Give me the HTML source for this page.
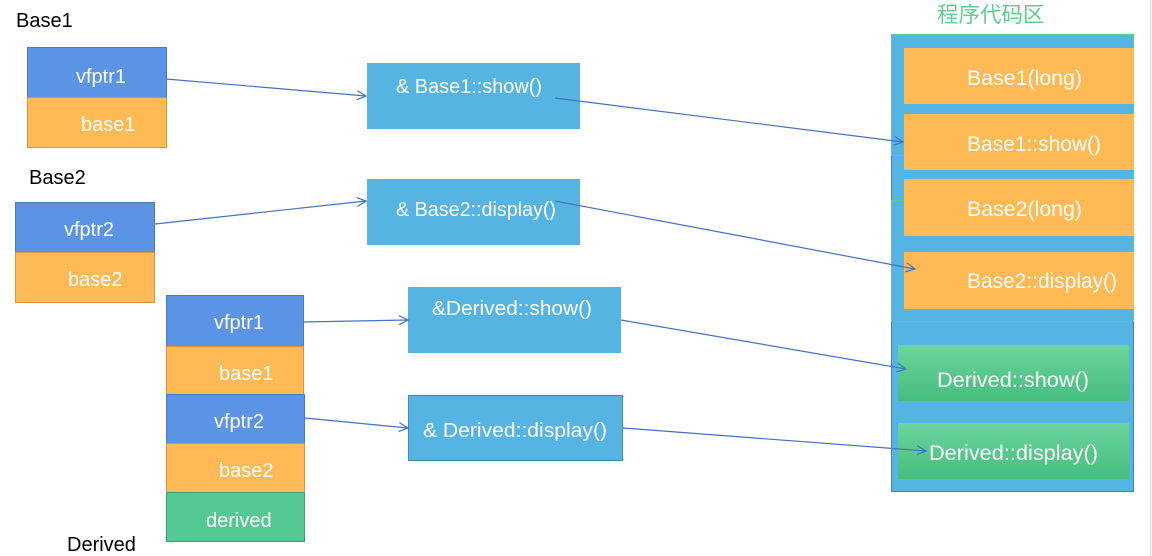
<!DOCTYPE html>
<html><head><meta charset="utf-8"><style>
html,body{margin:0;padding:0;background:#fff;width:1152px;height:556px;overflow:hidden}
svg{display:block}
text{font-family:"Liberation Sans","Noto Sans CJK SC",sans-serif}
</style></head><body>
<svg width="1152" height="556" viewBox="0 0 1152 556" xmlns="http://www.w3.org/2000/svg">
<defs>
<marker id="ar" markerWidth="12" markerHeight="12" refX="10" refY="5" orient="auto" markerUnits="userSpaceOnUse">
<path d="M1,0.5 L10,5 L1,9.5" fill="none" stroke="#4472C4" stroke-width="1.2"/>
</marker>
<linearGradient id="gg" x1="0" y1="0" x2="0" y2="1">
<stop offset="0" stop-color="#6DD49E"/><stop offset="1" stop-color="#44BE7D"/>
</linearGradient>
</defs>
<line x1="1150.5" y1="0" x2="1150.5" y2="556" stroke="#DDDDDD" stroke-width="1.5"/>

<!-- labels -->
<text x="16" y="27" font-size="20" fill="#000">Base1</text>
<text x="29" y="184" font-size="20" fill="#000">Base2</text>
<text x="67" y="551" font-size="20" fill="#000">Derived</text>

<!-- Base1 stack -->
<rect x="27.5" y="47.5" width="139" height="50" fill="#5B94E4" stroke="#4A7AC0"/>
<rect x="27.5" y="97.5" width="139" height="50" fill="#FFB955" stroke="#D9973A"/>
<text x="76" y="83" font-size="20" fill="#fff">vfptr1</text>
<text x="81" y="131" font-size="20" fill="#fff">base1</text>

<!-- Base2 stack -->
<rect x="15.5" y="202.5" width="139" height="50" fill="#5B94E4" stroke="#4A7AC0"/>
<rect x="15.5" y="252.5" width="139" height="50" fill="#FFB955" stroke="#D9973A"/>
<text x="64" y="236" font-size="20" fill="#fff">vfptr2</text>
<text x="68" y="286" font-size="20" fill="#fff">base2</text>

<!-- Derived stack -->
<rect x="166.5" y="295.5" width="137" height="51" fill="#5B94E4" stroke="#4A7AC0"/>
<rect x="166.5" y="346.5" width="137" height="51" fill="#FFB955" stroke="#D9973A"/>
<rect x="166.5" y="394.5" width="138" height="49" fill="#5B94E4" stroke="#4A7AC0"/>
<rect x="166.5" y="443.5" width="138" height="49" fill="#FFB955" stroke="#D9973A"/>
<rect x="166.5" y="492.5" width="138" height="49" fill="#55C993" stroke="#3E9E70"/>
<text x="214" y="329" font-size="20" fill="#fff">vfptr1</text>
<text x="219" y="380" font-size="20" fill="#fff">base1</text>
<text x="214" y="428" font-size="20" fill="#fff">vfptr2</text>
<text x="219" y="477" font-size="20" fill="#fff">base2</text>
<text x="206" y="527" font-size="20" fill="#fff">derived</text>

<!-- middle boxes -->
<rect x="367" y="63" width="213" height="66" fill="#56B4E3"/>
<rect x="367" y="179" width="213" height="66" fill="#56B4E3"/>
<rect x="408" y="287" width="213" height="66" fill="#56B4E3"/>
<rect x="408.5" y="395.5" width="214" height="65" fill="#56B4E3" stroke="#3F8CB5"/>
<text x="396" y="93" font-size="20" fill="#fff" textLength="146" lengthAdjust="spacingAndGlyphs">&amp; Base1::show()</text>
<text x="396" y="216" font-size="20" fill="#fff" textLength="160" lengthAdjust="spacingAndGlyphs">&amp; Base2::display()</text>
<text x="432" y="315" font-size="20" fill="#fff" textLength="160" lengthAdjust="spacingAndGlyphs">&amp;Derived::show()</text>
<text x="423" y="437" font-size="20" fill="#fff" textLength="184" lengthAdjust="spacingAndGlyphs">&amp; Derived::display()</text>

<!-- right panel -->
<text x="937" y="22" font-size="21.5" fill="#5ECF8E" font-family="'Noto Sans CJK SC',sans-serif">程序代码区</text>
<rect x="891.5" y="34.5" width="242" height="457" fill="#56B4E3" stroke="#3F85B5"/>
<path d="M891.5,155 V34.5 H1133.5 V321.5" fill="none" stroke="#5CCB8A"/>
<path d="M891.5,200 V321.5" fill="none" stroke="#5CCB8A"/>
<line x1="891" y1="321.5" x2="1134" y2="321.5" stroke="#5CCB8A"/>
<line x1="891" y1="155.5" x2="904" y2="155.5" stroke="#5CCB8A"/>
<line x1="891" y1="200.5" x2="904" y2="200.5" stroke="#5CCB8A"/>

<rect x="904" y="48" width="230" height="56" fill="#FFB955"/>
<rect x="904" y="114" width="230" height="56" fill="#FFB955"/>
<rect x="904" y="179" width="230" height="57" fill="#FFB955"/>
<rect x="904" y="252" width="230" height="57" fill="#FFB955"/>
<text x="967" y="85" font-size="21" fill="#fff" textLength="115" lengthAdjust="spacingAndGlyphs">Base1(long)</text>
<text x="967" y="151" font-size="21" fill="#fff" textLength="134" lengthAdjust="spacingAndGlyphs">Base1::show()</text>
<text x="967" y="216" font-size="21" fill="#fff" textLength="115" lengthAdjust="spacingAndGlyphs">Base2(long)</text>
<text x="967" y="288" font-size="21" fill="#fff" textLength="150" lengthAdjust="spacingAndGlyphs">Base2::display()</text>

<rect x="898" y="345" width="231" height="56" fill="url(#gg)"/>
<rect x="898" y="423" width="231" height="56" fill="url(#gg)"/>
<text x="937" y="387" font-size="21" fill="#fff" textLength="152" lengthAdjust="spacingAndGlyphs">Derived::show()</text>
<text x="929" y="460" font-size="21" fill="#fff" textLength="169" lengthAdjust="spacingAndGlyphs">Derived::display()</text>

<!-- connectors -->
<g stroke="#4472C4" stroke-width="1.2" fill="none" marker-end="url(#ar)">
<line x1="166" y1="79" x2="366" y2="96"/>
<line x1="555" y1="98" x2="903" y2="142"/>
<line x1="155" y1="224" x2="366" y2="201"/>
<line x1="555" y1="201" x2="915" y2="269"/>
<line x1="303" y1="322" x2="408" y2="320"/>
<line x1="621" y1="320" x2="906" y2="369"/>
<line x1="305" y1="418" x2="408" y2="428"/>
<line x1="623" y1="428" x2="926" y2="451"/>
</g>
</svg>
</body></html>
